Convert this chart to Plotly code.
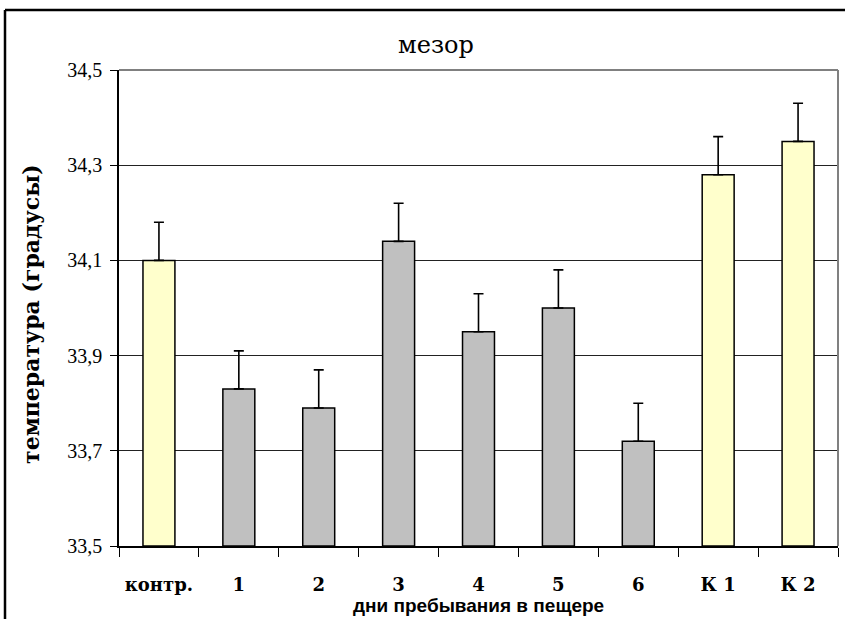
import plotly.graph_objects as go

categories = ["контр.", "1", "2", "3", "4", "5", "6", "К 1", "К 2"]
mezor = [34.10, 33.83, 33.79, 34.14, 33.95, 34.00, 33.72, 34.28, 34.35]
err_plus = [0.08, 0.08, 0.08, 0.08, 0.08, 0.08, 0.08, 0.08, 0.08]
bar_colors = ["#FFFFCC", "#C0C0C0", "#C0C0C0", "#C0C0C0", "#C0C0C0",
              "#C0C0C0", "#C0C0C0", "#FFFFCC", "#FFFFCC"]
y_ticks = [33.5, 33.7, 33.9, 34.1, 34.3, 34.5]

W, H = 845, 619
L, R, T, B = 119, 7, 70, 73
pw, ph = W - L - R, H - T - B

SERIF = "Liberation Serif"
WIDE_SERIF = "DejaVu Serif"
SANS = "Liberation Sans"


def px_x(p):
    return (p - L) / pw


def px_y(p):
    return (H - B - p) / ph


fig = go.Figure()
fig.add_trace(go.Bar(
    x=categories, y=[v - 33.5 for v in mezor], base=33.5,
    marker=dict(color=bar_colors, line=dict(color="black", width=1.5)),
    error_y=dict(type="data", array=err_plus, arrayminus=[0] * len(err_plus),
                 symmetric=False, color="black", thickness=1.6, width=5),
    width=0.4,
    hoverinfo="skip",
))

fig.update_layout(
    width=W, height=H,
    margin=dict(l=L, r=R, t=T, b=B),
    paper_bgcolor="white", plot_bgcolor="white",
    separators=", ",
    showlegend=False,
    title=dict(text="мезор", x=436 / W, xanchor="center",
               y=1 - 45 / H, yanchor="middle", xref="container", yref="container",
               font=dict(family=WIDE_SERIF, size=24, color="black")),
    xaxis=dict(
        type="category", tickson="boundaries",
        showline=True, linecolor="black", linewidth=1.5,
        ticks="outside", ticklen=9, tickcolor="black", tickwidth=1.3,
        tickfont=dict(family=WIDE_SERIF, size=18, color="black", weight="bold"),
        ticklabelstandoff=22,
        showgrid=False,
    ),
    yaxis=dict(
        range=[33.5, 34.5], tickvals=y_ticks, tickformat=".1f",
        showline=True, linecolor="black", linewidth=1.5,
        ticks="outside", ticklen=7, tickcolor="black", tickwidth=1.3,
        tickfont=dict(family=SERIF, size=20, color="black"),
        ticklabelstandoff=4,
        showgrid=True, gridcolor="#222222", gridwidth=1.4,
        zeroline=False,
    ),
    annotations=[
        dict(text="<b>температура (градусы)</b>", textangle=-90,
             x=px_x(31), y=px_y(314), xref="paper", yref="paper",
             xanchor="center", yanchor="middle", showarrow=False,
             font=dict(family=WIDE_SERIF, size=22, color="black")),
        dict(text="<b>дни пребывания в пещере</b>",
             x=px_x(478), y=px_y(605), xref="paper", yref="paper",
             xanchor="center", yanchor="middle", showarrow=False,
             font=dict(family=SANS, size=19, color="black")),
    ],
    shapes=[
        dict(type="line", xref="paper", yref="paper", x0=0, x1=1, y0=1, y1=1,
             line=dict(color="#808080", width=2), layer="above"),
        dict(type="line", xref="paper", yref="paper", x0=1, x1=1, y0=0, y1=1,
             line=dict(color="#808080", width=2), layer="above"),
        dict(type="line", xref="paper", yref="paper", x0=px_x(5), x1=px_x(850),
             y0=px_y(10), y1=px_y(10), line=dict(color="black", width=2.5)),
        dict(type="line", xref="paper", yref="paper", x0=px_x(5), x1=px_x(5),
             y0=px_y(10), y1=px_y(630), line=dict(color="black", width=2.5)),
    ],
)

fig.write_html("out.html",
               config={"displayModeBar": False},
               post_script="document.body.style.margin='0';"
                           "document.body.style.overflow='hidden';")
